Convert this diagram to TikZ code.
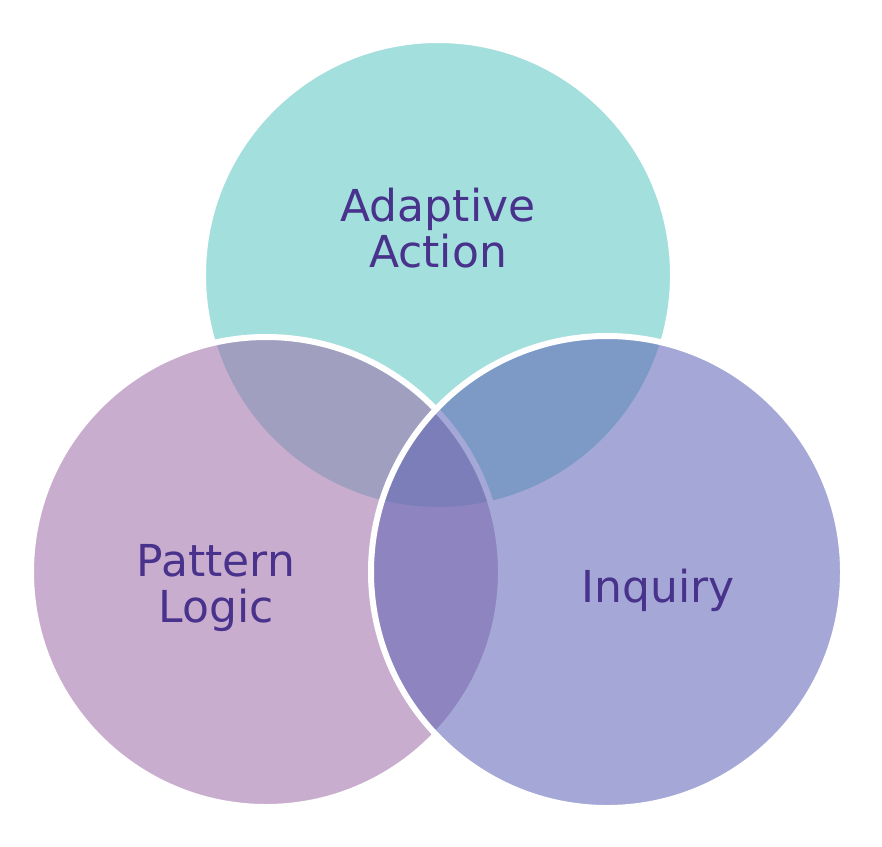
\documentclass[tikz,border=0pt]{standalone}
\usepackage{fontspec}
\setmainfont{DejaVu Sans}
\definecolor{topc}{RGB}{163,223,221}
\definecolor{leftc}{RGB}{159,110,169}
\definecolor{rightc}{RGB}{96,101,182}
\definecolor{txt}{RGB}{72,50,140}
\begin{document}
\begin{tikzpicture}[x=1pt,y=-1pt,
  venn/.style={draw=white,line width=6pt},
  lbl/.style={text=txt,align=center,font=\fontsize{44}{46}\selectfont}]
\useasboundingbox (0,0) rectangle (882,846);
\fill[white] (0,0) rectangle (882,846);
\path[venn,fill=topc] (438,275) circle[radius=235];
\path[venn,fill=leftc,fill opacity=0.56] (266,572) circle[radius=235];
\path[venn,fill=rightc,fill opacity=0.56] (607,572) circle[radius=236];
\node[lbl] (a) at (438,228) {Adaptive\\Action};
\node[lbl] (p) at (216,588) {Pattern\\Logic};
\node[lbl] (i) at (658,590) {Inquiry};
\end{tikzpicture}
\end{document}
